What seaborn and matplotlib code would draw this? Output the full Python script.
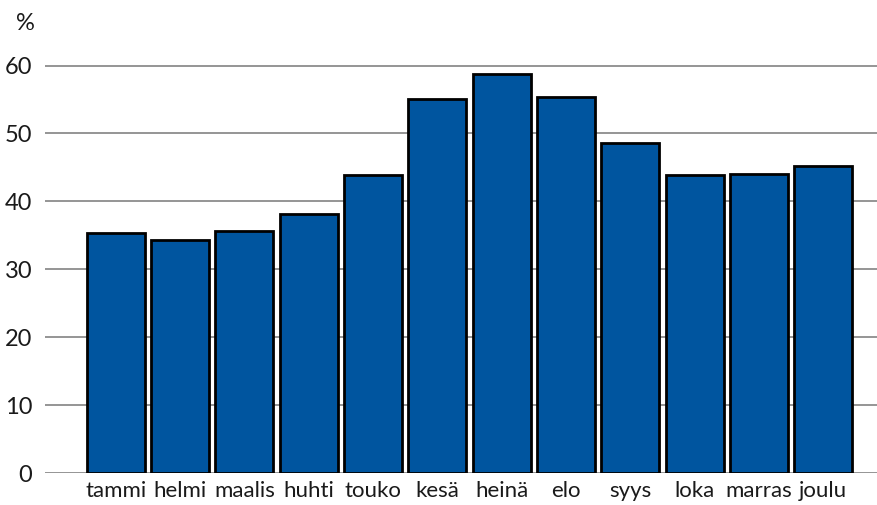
import pandas as pd
import matplotlib.pyplot as plt
import seaborn as sns

# Data
months = ['tammi', 'helmi', 'maalis', 'huhti', 'touko', 'kesä',
          'heinä', 'elo', 'syys', 'loka', 'marras', 'joulu']
values = [35.3, 34.3, 35.7, 38.1, 43.9, 55.1, 58.8, 55.4, 48.6, 43.9, 44.0, 45.2]
yticks = [0, 10, 20, 30, 40, 50, 60]

sns.set_theme(style="white")
plt.rcParams['font.family'] = ['Lato', 'DejaVu Sans']

df = pd.DataFrame({'month': months, 'value': values})

fig = plt.figure(figsize=(8.78, 5.05), dpi=100)
ax = fig.add_axes([45 / 878, 32 / 505, 833 / 878, (473 - 31.6) / 505])

sns.barplot(data=df, x='month', y='value', color='#00559F', saturation=1,
            width=0.9, edgecolor='black', linewidth=2, ax=ax, zorder=3)

ax.set_ylim(0, 65)
ax.set_xlim(-1.1, 11.85)
ax.set_yticks(yticks)
ax.set_yticklabels([str(t) for t in yticks], fontsize=17, color='#1a1a1a')
ax.tick_params(axis='y', length=0, pad=9)
ax.tick_params(axis='x', length=0, pad=6, labelsize=16, labelcolor='#1a1a1a')
ax.grid(axis='y', color='#8c8c8c', linewidth=1.3, zorder=0)
ax.set_xlabel('')
ax.set_ylabel('')
for s in ax.spines.values():
    s.set_visible(False)

fig.text(25 / 878, 1 - 24 / 505, '%', fontsize=17, ha='center', va='center', color='#1a1a1a')

fig.savefig('out.png', dpi=100)
